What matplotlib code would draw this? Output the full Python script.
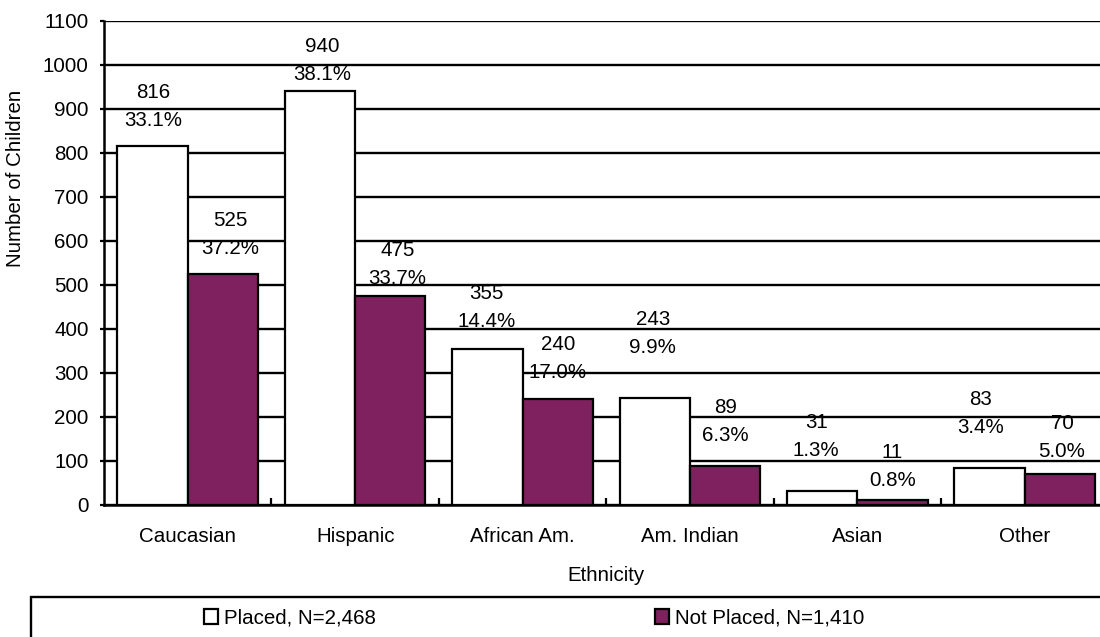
import matplotlib
matplotlib.use("Agg")
import matplotlib.pyplot as plt
import numpy as np
from matplotlib.patches import Patch, Rectangle

plt.rcParams['font.family'] = ['Liberation Sans', 'DejaVu Sans']
plt.rcParams['font.size'] = 14.8

categories = ['Caucasian', 'Hispanic', 'African Am.', 'Am. Indian', 'Asian', 'Other']
placed = [816, 940, 355, 243, 31, 83]
placed_pct = ['33.1%', '38.1%', '14.4%', '9.9%', '1.3%', '3.4%']
not_placed = [525, 475, 240, 89, 11, 70]
not_placed_pct = ['37.2%', '33.7%', '17.0%', '6.3%', '0.8%', '5.0%']
legend_labels = ['Placed, N=2,468', 'Not Placed, N=1,410']

purple = '#7f215e'

# label placement (pixels): gap from bar top to the % line, sideways shift
placed_gap = [25, 17, 27, 51, 41, 41]
placed_dx = [1, 2, -1, -2, -6, -9]
not_gap = [25, 17, 27, 30, 20, 23]
not_dx = [7, 7, 0, 0, 0, 2]

px = 72 / 100  # points per pixel

fig = plt.figure(figsize=(11, 6.37), dpi=100)
ax = fig.add_axes([104 / 1100, 1 - 505 / 637, 1004.5 / 1100, 484 / 637])

x = np.arange(len(categories))
w = 0.42
b1 = ax.bar(x - w / 2, placed, w, color='white', edgecolor='black', linewidth=1.6)
b2 = ax.bar(x + w / 2, not_placed, w, color=purple, edgecolor='black', linewidth=1.6)

def put_labels(bars, vals, pcts, gaps, dxs):
    for bar, v, p, g, d in zip(bars, vals, pcts, gaps, dxs):
        cx = bar.get_x() + bar.get_width() / 2
        ax.annotate(p, (cx, v), xytext=(d * px, g * px), textcoords='offset points',
                    ha='center', va='center')
        ax.annotate(str(v), (cx, v), xytext=(d * px, (g + 28) * px), textcoords='offset points',
                    ha='center', va='center')

put_labels(b1, placed, placed_pct, placed_gap, placed_dx)
put_labels(b2, not_placed, not_placed_pct, not_gap, not_dx)

ax.set_xlim(-0.5, len(categories) - 0.5)
ax.set_ylim(0, 1100)
ax.set_yticks(np.arange(0, 1101, 100))
ax.yaxis.grid(True, color='black', linewidth=1.7)
ax.set_axisbelow(True)
ax.tick_params(axis='y', length=3, width=1.6, pad=8, direction='out')

ax.set_xticks(x)
ax.set_xticklabels(categories)
ax.set_xticks(np.arange(0.5, len(categories) - 0.5, 1), minor=True)
ax.tick_params(axis='x', which='major', length=0, pad=16)
ax.tick_params(axis='x', which='minor', length=5, width=1.6, direction='in')
ax.set_xlabel('Ethnicity', labelpad=14)

for s in ['top', 'right']:
    ax.spines[s].set_visible(False)
for s in ['left', 'bottom']:
    ax.spines[s].set_linewidth(1.8)

fig.text(16 / 1100, 1 - 178 / 637, 'Number of Children', rotation=90, ha='center', va='center')

# legend box at the bottom
fig.add_artist(Rectangle((31 / 1100, -0.1), 1.1, 0.1 + 1 - 597 / 637, transform=fig.transFigure,
                         fill=False, edgecolor='black', linewidth=1.7, clip_on=False))
handles = [Patch(facecolor='white', edgecolor='black', linewidth=1.6),
           Patch(facecolor=purple, edgecolor='black', linewidth=1.6)]
for h, lab, lx in zip(handles, legend_labels, [204, 655]):
    fig.legend([h], [lab], loc='center left', bbox_to_anchor=(lx / 1100, 1 - 618 / 637),
               frameon=False, handlelength=0.7, handleheight=0.7, handletextpad=0.25,
               borderpad=0, borderaxespad=0)

fig.savefig('out.png', dpi=100)
